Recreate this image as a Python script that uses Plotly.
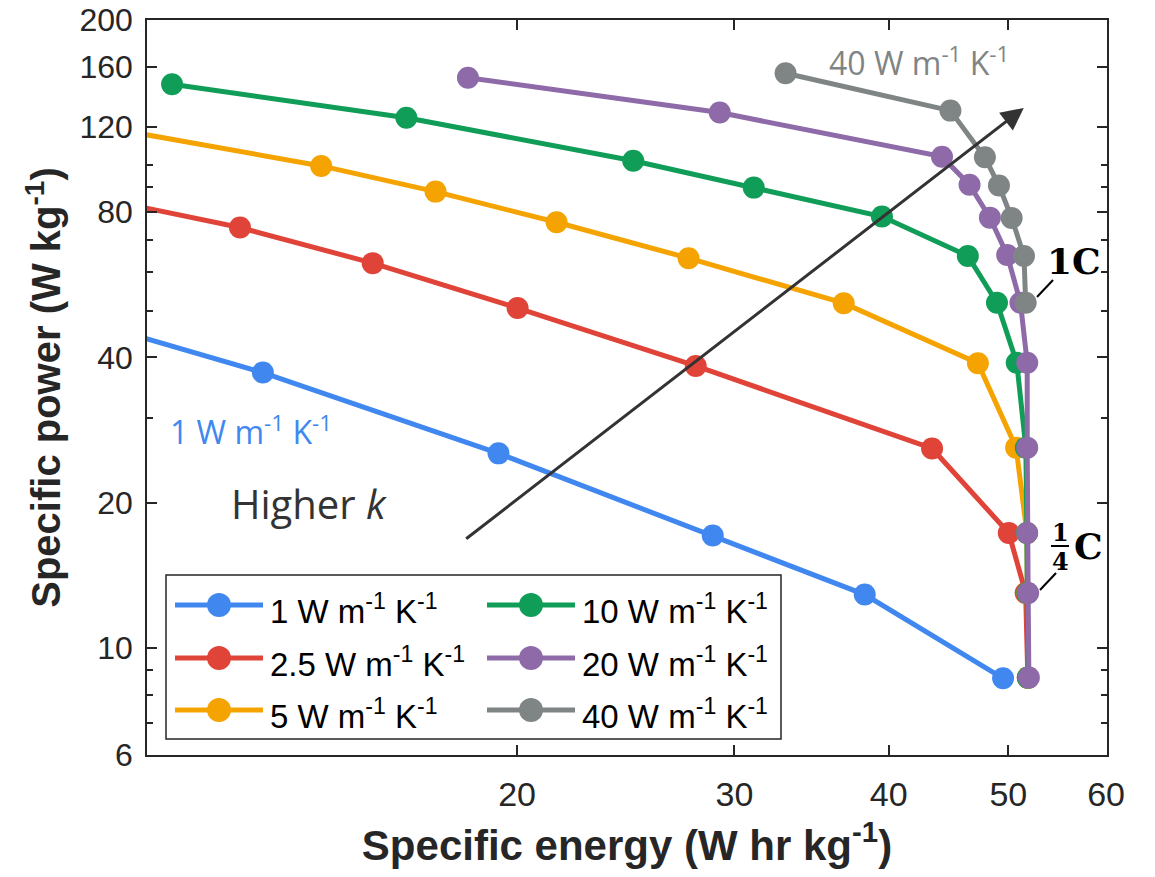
import numpy as np
import plotly.graph_objects as go

# ---------------- data ----------------
SERIES_NAMES = [
    "1 W m<sup>-1</sup> K<sup>-1</sup>",
    "2.5 W m<sup>-1</sup> K<sup>-1</sup>",
    "5 W m<sup>-1</sup> K<sup>-1</sup>",
    "10 W m<sup>-1</sup> K<sup>-1</sup>",
    "20 W m<sup>-1</sup> K<sup>-1</sup>",
    "40 W m<sup>-1</sup> K<sup>-1</sup>",
]
COLORS = ["#4088F0", "#E04438", "#F4A300", "#109D58", "#8E6AA8", "#7F8585"]

# specific energy (W hr kg^-1) and specific power (W kg^-1)
E_K1 = [8.6, 12.45, 19.32, 28.81, 38.25, 49.51]
P_K1 = [49.0, 37.2, 25.3, 17.1, 12.9, 8.65]

E_K2_5 = [9.06, 11.93, 15.28, 20.02, 27.91, 43.37, 50.04, 51.64, 51.85]
P_K2_5 = [86.0, 74.3, 62.7, 50.6, 38.4, 25.9, 17.3, 13.0, 8.68]

E_K5 = [8.45, 13.88, 17.18, 21.53, 27.54, 36.78, 47.24, 50.73, 51.76, 51.8, 51.85]
P_K5 = [125.0, 99.7, 88.2, 76.2, 64.2, 51.8, 38.9, 26.0, 17.3, 13.0, 8.68]

E_K10 = [10.51, 16.27, 24.84, 31.1, 39.5, 46.36, 48.95, 50.79, 51.66, 51.76, 51.8, 51.85]
P_K10 = [147.2, 125.5, 102.2, 89.9, 78.3, 64.9, 51.9, 39.0, 26.0, 17.3, 13.0, 8.68]

E_K20 = [18.25, 29.19, 44.18, 46.51, 48.31, 49.89, 51.14, 51.79, 51.79, 51.79, 51.88, 51.95]
P_K20 = [151.9, 128.6, 104.2, 91.1, 77.9, 65.2, 51.9, 39.0, 26.0, 17.3, 13.0, 8.68]

E_K40 = [33.0, 44.88, 47.86, 49.13, 50.31, 51.48, 51.64]
P_K40 = [155.1, 129.8, 103.9, 90.8, 77.8, 64.9, 51.9]

ENERGY = [E_K1, E_K2_5, E_K5, E_K10, E_K20, E_K40]
POWER = [P_K1, P_K2_5, P_K5, P_K10, P_K20, P_K40]

X_TICKS = [20, 30, 40, 50, 60]
Y_TICKS = [6, 10, 20, 40, 80, 120, 160, 200]
Y_MINOR = [7, 8, 9, 30, 50, 60, 70, 90, 100]
X_RANGE = [10.03, 60.1]
Y_RANGE = [6, 200]

# arrow "Higher k" (data space, tail -> head)
ARROW_TAIL = (18.14, 16.74)
ARROW_HEAD = (51.46, 131.5)

# ---------------- layout geometry ----------------
# the page body keeps an 8 px margin, so the figure is made 16 px smaller
PAGE_W, PAGE_H, BODY = 1155, 877, 8
W, H = PAGE_W - 2 * BODY, PAGE_H - 2 * BODY
# plot area on the page: x 147..1107, y 20..755
PL, PR, PT, PB = 147, 1107, 20, 755
ML, MT = PL - BODY, PT - BODY
MR, MB = W - (PR - BODY), H - (PB - BODY)
PW, PH = PR - PL, PB - PT
AX = "#262626"
SANS = "Liberation Sans, Arial, sans-serif"
OPEN = "Open Sans, sans-serif"
SERIF = "DejaVu Serif, serif"


def xp(px):
    return (px - PL) / PW


def yp(py):
    return (PB - py) / PH


fig = go.Figure()
for name, color, ex, py_ in zip(SERIES_NAMES, COLORS, ENERGY, POWER):
    fig.add_trace(go.Scatter(
        x=ex, y=py_, name=name, mode="lines+markers",
        line=dict(color=color, width=5),
        marker=dict(color=color, size=22),
        showlegend=False,
    ))

shapes = []
annotations = []

# ---- custom legend (box, sample lines, markers, labels) ----
LEG_BOX = (166, 575, 781, 739)
LEG_ROWS = [605, 658, 710]
LEG_COLS = [(175, 263, 270), (487, 575, 582)]
shapes.append(dict(type="rect", xref="paper", yref="paper",
                   x0=xp(LEG_BOX[0]), x1=xp(LEG_BOX[2]),
                   y0=yp(LEG_BOX[3]), y1=yp(LEG_BOX[1]),
                   line=dict(color=AX, width=1.5), fillcolor="white", layer="above"))
for i, (name, color) in enumerate(zip(SERIES_NAMES, COLORS)):
    c, r = divmod(i, 3)
    lx0, lx1, tx = LEG_COLS[c]
    ry = LEG_ROWS[r]
    shapes.append(dict(type="line", xref="paper", yref="paper",
                       x0=xp(lx0), x1=xp(lx1), y0=yp(ry), y1=yp(ry),
                       line=dict(color=color, width=5), layer="above"))
    shapes.append(dict(type="circle", xref="paper", yref="paper",
                       xsizemode="pixel", ysizemode="pixel",
                       xanchor=xp((lx0 + lx1) / 2), yanchor=yp(ry),
                       x0=-12, x1=12, y0=-12, y1=12,
                       fillcolor=color, line=dict(width=0), layer="above"))
    annotations.append(dict(text=name, xref="paper", yref="paper",
                            x=xp(tx - 2), y=yp(ry + 4), xanchor="left", yanchor="middle",
                            showarrow=False, font=dict(family=SANS, size=33, color="black")))

# ---- arrow ----
annotations.append(dict(
    text="", xref="x", yref="y", axref="x", ayref="y",
    x=np.log10(ARROW_HEAD[0]), y=np.log10(ARROW_HEAD[1]),
    ax=np.log10(ARROW_TAIL[0]), ay=np.log10(ARROW_TAIL[1]),
    showarrow=True, arrowhead=2, arrowsize=1.5, arrowwidth=3, arrowcolor="#333333"))

# ---- text labels ----
annotations.append(dict(text="Higher <i>k</i>", xref="paper", yref="paper",
                        x=xp(229), y=yp(503), xanchor="left", yanchor="middle",
                        showarrow=False, font=dict(family=OPEN, size=40, color="#333333")))
annotations.append(dict(text=SERIES_NAMES[0], xref="paper", yref="paper",
                        x=xp(168), y=yp(430), xanchor="left", yanchor="middle",
                        showarrow=False, font=dict(family=OPEN, size=32, color=COLORS[0])))
annotations.append(dict(text=SERIES_NAMES[5], xref="paper", yref="paper",
                        x=xp(827), y=yp(61), xanchor="left", yanchor="middle",
                        showarrow=False, font=dict(family=OPEN, size=32, color=COLORS[5])))

# ---- C-rate labels ----
annotations.append(dict(text="<b>1C</b>", xref="paper", yref="paper",
                        x=xp(1074), y=yp(261), xanchor="center", yanchor="middle",
                        showarrow=False, font=dict(family=SERIF, size=36, color="black")))
shapes.append(dict(type="line", xref="paper", yref="paper",
                   x0=xp(1037), y0=yp(297), x1=xp(1053), y1=yp(280),
                   line=dict(color="black", width=2)))
annotations.append(dict(text="<b>1</b>", xref="paper", yref="paper",
                        x=xp(1060), y=yp(532), xanchor="center", yanchor="middle",
                        showarrow=False, font=dict(family=SERIF, size=24, color="black")))
annotations.append(dict(text="<b>4</b>", xref="paper", yref="paper",
                        x=xp(1060), y=yp(561), xanchor="center", yanchor="middle",
                        showarrow=False, font=dict(family=SERIF, size=24, color="black")))
shapes.append(dict(type="line", xref="paper", yref="paper",
                   x0=xp(1051), y0=yp(546), x1=xp(1069), y1=yp(546),
                   line=dict(color="black", width=2)))
annotations.append(dict(text="<b>C</b>", xref="paper", yref="paper",
                        x=xp(1088), y=yp(546), xanchor="center", yanchor="middle",
                        showarrow=False, font=dict(family=SERIF, size=36, color="black")))
shapes.append(dict(type="line", xref="paper", yref="paper",
                   x0=xp(1040), y0=yp(590), x1=xp(1056), y1=yp(573),
                   line=dict(color="black", width=2)))

axis_common = dict(
    type="log", showgrid=False, zeroline=False, automargin=False,
    ticks="inside", ticklen=10, tickwidth=1.5, tickcolor=AX,
    showline=True, linecolor=AX, linewidth=1.5, mirror="allticks",
    tickmode="array", ticklabeloverflow="allow",
)

fig.update_layout(
    width=W, height=H, autosize=False,
    margin=dict(l=ML, r=MR, t=MT, b=MB, pad=0),
    paper_bgcolor="white", plot_bgcolor="white",
    showlegend=False,
    xaxis=dict(
        **axis_common,
        range=[np.log10(X_RANGE[0]), np.log10(X_RANGE[1])],
        tickvals=X_TICKS, ticktext=[str(v) for v in X_TICKS],
        tickfont=dict(family=SANS, size=34, color=AX),
        ticklabelstandoff=8,
        title=dict(text="<b>Specific energy (W hr kg<sup>-1</sup>)</b>",
                   font=dict(family=SANS, size=42, color=AX), standoff=28),
    ),
    yaxis=dict(
        **axis_common,
        range=[np.log10(Y_RANGE[0]), np.log10(Y_RANGE[1])],
        tickvals=Y_TICKS, ticktext=[str(v) for v in Y_TICKS],
        tickfont=dict(family=SANS, size=32, color=AX),
        ticklabelstandoff=6,
        minor=dict(tickmode="array", tickvals=Y_MINOR, ticks="inside",
                   ticklen=6, tickwidth=1.5, tickcolor=AX, showgrid=False),
        title=dict(text="<b>Specific power (W kg<sup>-1</sup>)</b>",
                   font=dict(family=SANS, size=40, color=AX), standoff=6),
    ),
    shapes=shapes,
    annotations=annotations,
)

fig.write_html("out.html")
